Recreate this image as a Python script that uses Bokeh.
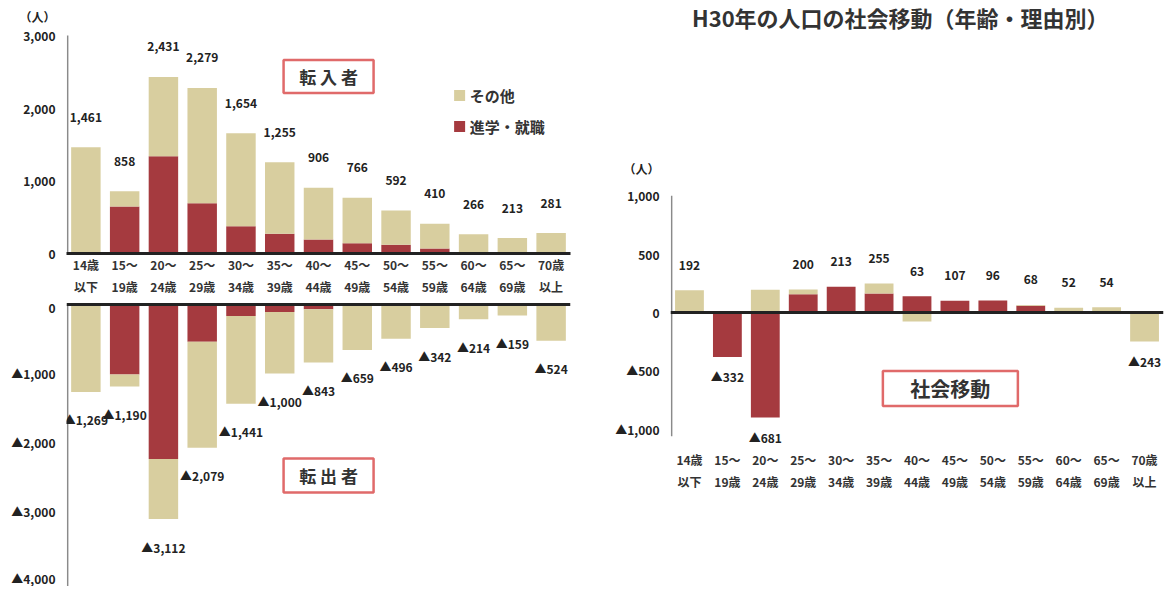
from bokeh.plotting import figure
from bokeh.layouts import row, column
from bokeh.models import Range1d, FactorRange, Span, Label, FixedTicker
from bokeh.embed import file_html
from bokeh.resources import INLINE
from bokeh.core.properties import value

# ---------------- data ----------------
cat_line1 = ["14歳", "15～", "20～", "25～", "30～", "35～", "40～", "45～", "50～", "55～", "60～", "65～", "70歳"]
cat_line2 = ["以下", "19歳", "24歳", "29歳", "34歳", "39歳", "44歳", "49歳", "54歳", "59歳", "64歳", "69歳", "以上"]

in_total = [1461, 858, 2431, 2279, 1654, 1255, 906, 766, 592, 410, 266, 213, 281]
in_job = [10, 647, 1340, 692, 374, 273, 194, 140, 122, 70, 8, 5, 0]

out_total = [1269, 1190, 3112, 2079, 1441, 1000, 843, 659, 496, 342, 214, 159, 524]
out_job = [0, 1015, 2240, 540, 165, 108, 70, 0, 0, 0, 0, 0, 0]

net_total = [192, -332, -681, 200, 213, 255, 63, 107, 96, 68, 52, 54, -243]
net_job = [0, -380, -900, 157, 220, 163, 140, 100, 103, 57, 0, 0, 0]
net_other = [190, 0, 195, 40, 0, 85, -77, 0, 0, 8, 40, 45, -249]

top_ticks = [0, 1000, 2000, 3000]
bottom_ticks = [0, -1000, -2000, -3000, -4000]
net_ticks = [-1000, -500, 0, 500, 1000]

series_names = ["その他", "進学・就職"]
title_text = "H30年の人口の社会移動（年齢・理由別）"
unit_text = "（人）"

# ---------------- style ----------------
FONT = "Noto Sans CJK JP"
BEIGE = "#d8ce9f"
RED = "#a53a3f"
BOX = "#e06a6a"
INK = "#222222"
AXIS = "#8a8a8a"

factors = [a + "\n" + b for a, b in zip(cat_line1, cat_line2)]


def fmt(v):
    return ("▲" if v < 0 else "") + f"{abs(int(v)):,}"


def style_axes(p, ticks, lo, hi, unit_y=None):
    p.outline_line_color = None
    p.xgrid.visible = False
    p.ygrid.visible = False
    ax = p.yaxis[0]
    all_ticks = list(ticks) + ([unit_y] if unit_y is not None else [])
    ax.ticker = FixedTicker(ticks=all_ticks)
    ov = {t: fmt(t) for t in ticks}
    if unit_y is not None:
        ov[unit_y] = unit_text
    ax.major_label_overrides = ov
    ax.axis_line_color = None
    ax.major_tick_line_color = None
    ax.minor_tick_line_color = None
    ax.major_tick_out = 0
    ax.major_tick_in = 0
    ax.major_label_standoff = 11
    ax.major_label_text_font = FONT
    ax.major_label_text_font_size = "12px"
    ax.major_label_text_font_style = "bold"
    ax.major_label_text_color = INK
    # vertical axis line drawn just inside the frame, only over the value span
    p.segment(x0=[0.03], x1=[0.03], y0=[lo], y1=[hi], line_color=AXIS, line_width=1.5)


def style_xaxis(ax):
    ax.major_tick_line_color = None
    ax.minor_tick_line_color = None
    ax.major_tick_out = 0
    ax.major_tick_in = 0
    ax.major_label_standoff = 2
    ax.major_label_text_font = FONT
    ax.major_label_text_font_size = "12px"
    ax.major_label_text_font_style = "bold"
    ax.major_label_text_color = "#333333"
    ax.major_label_text_line_height = 1.3


def box(p, x, y, w, h, text, size, style="normal"):
    p.rect(x=[x], y=[y], width=w, height=h, width_units="screen", height_units="screen",
           fill_color="white", line_color=BOX, line_width=2.5)
    p.add_layout(Label(x=x, y=y, text=text, text_align="center", text_baseline="middle",
                       text_font=FONT, text_font_size=size, text_font_style=style,
                       text_color="#333333"))


# ---------------- left top: 転入者 ----------------
TOP_H = 247
TOP_R = (0, 3400)
k_top = TOP_H / (TOP_R[1] - TOP_R[0])

top = figure(x_range=FactorRange(*factors), y_range=Range1d(*TOP_R),
             frame_width=504, frame_height=TOP_H,
             min_border_left=66, min_border_right=26, min_border_top=6, min_border_bottom=45,
             output_backend="svg", toolbar_location=None)
style_axes(top, top_ticks, 0, 3000, unit_y=237 / k_top)
style_xaxis(top.xaxis[0])
top.xaxis.axis_line_color = INK
top.xaxis.axis_line_width = 3

top.vbar(x=factors, bottom=0, top=in_job, width=0.76, color=RED, line_color=None)
top.vbar(x=factors, bottom=in_job, top=in_total, width=0.76, color=BEIGE, line_color=None)
top.text(x=factors, y=[t + 30 / k_top for t in in_total], text=[fmt(t) for t in in_total],
         text_align="center", text_baseline="middle", text_font=value(FONT),
         text_font_size="12px", text_font_style="bold", text_color=INK)

box(top, 6.76, 177 / k_top, 90, 33, "転 入 者", "17px", "bold")

# legend (drawn)
top.scatter(x=[10.14, 10.14], y=[158 / k_top, 127 / k_top], marker="square", size=11,
            color=[BEIGE, RED], line_color=None)
for nm, yy in zip(series_names, [158 / k_top, 127 / k_top]):
    top.add_layout(Label(x=10.4, y=yy, text=nm, text_align="left", text_baseline="middle",
                         text_font=FONT, text_font_size="15px", text_font_style="bold",
                         text_color="#333333"))

# ---------------- left bottom: 転出者 ----------------
BOT_H = 288
BOT_R = (-4090, 87)
k_bot = BOT_H / (BOT_R[1] - BOT_R[0])

bot = figure(x_range=top.x_range, y_range=Range1d(*BOT_R),
             frame_width=504, frame_height=BOT_H, x_axis_location=None,
             min_border_left=66, min_border_right=26, min_border_top=0, min_border_bottom=0,
             output_backend="svg", toolbar_location=None)
style_axes(bot, bottom_ticks, -4090, 0)

bot.vbar(x=factors, top=0, bottom=[-v for v in out_job], width=0.76, color=RED, line_color=None)
bot.vbar(x=factors, top=[-v for v in out_job], bottom=[-v for v in out_total], width=0.76,
         color=BEIGE, line_color=None)
bot.add_layout(Span(location=0, dimension="width", line_color=INK, line_width=3))
bot.text(x=factors, y=[-t - 28 / k_bot for t in out_total], text=[fmt(-t) for t in out_total],
         x_offset=0, text_align="center", text_baseline="middle", text_font=value(FONT),
         text_font_size="12px", text_font_style="bold", text_color=INK)
box(bot, 6.76, -171 / k_bot, 90, 34, "転 出 者", "17px", "bold")

# ---------------- right: 社会移動 ----------------
R_H = 442
R_R = (-1165, 2622)
k_r = R_H / (R_R[1] - R_R[0])

rf = figure(x_range=FactorRange(*factors), y_range=Range1d(*R_R),
            frame_width=493, frame_height=R_H,
            min_border_left=74, min_border_right=1, min_border_top=6, min_border_bottom=50,
            output_backend="svg", toolbar_location=None)
style_axes(rf, net_ticks, -1060, 1000, unit_y=144 / k_r)
style_xaxis(rf.xaxis[0])
rf.xaxis.axis_line_color = None

job_bottom = [min(0, j) for j in net_job]
job_top = [max(0, j) for j in net_job]
oth_bottom, oth_top, pos_top, neg_bot = [], [], [], []
for j, o in zip(net_job, net_other):
    if o >= 0:
        base = max(0, j)
        oth_bottom.append(base)
        oth_top.append(base + o)
    else:
        base = min(0, j)
        oth_bottom.append(base + o)
        oth_top.append(base)
    pos_top.append(max(0, j) + max(0, o))
    neg_bot.append(min(0, j) + min(0, o))

rf.vbar(x=factors, bottom=job_bottom, top=job_top, width=0.76, color=RED, line_color=None)
rf.vbar(x=factors, bottom=oth_bottom, top=oth_top, width=0.76, color=BEIGE, line_color=None)
rf.add_layout(Span(location=0, dimension="width", line_color=INK, line_width=3))

lab_y = [pt + 25 / k_r if t >= 0 else nb - 20 / k_r for t, pt, nb in zip(net_total, pos_top, neg_bot)]
rf.text(x=factors, y=lab_y, text=[fmt(t) for t in net_total],
        text_align="center", text_baseline="middle", text_font=value(FONT),
        text_font_size="12px", text_font_style="bold", text_color=INK)

rf.add_layout(Label(x=6.06, y=296 / k_r, text=title_text, text_align="center",
                    text_baseline="middle", text_font=FONT, text_font_size="22px",
                    text_font_style="bold", text_color="#333333"))
box(rf, 7.38, -76 / k_r, 135, 35, "社会移動", "20px", "bold")

layout = row(column(top, bot), rf)
with open("out.html", "w", encoding="utf-8") as f:
    f.write(file_html(layout, INLINE, title="H30年の人口の社会移動"))
